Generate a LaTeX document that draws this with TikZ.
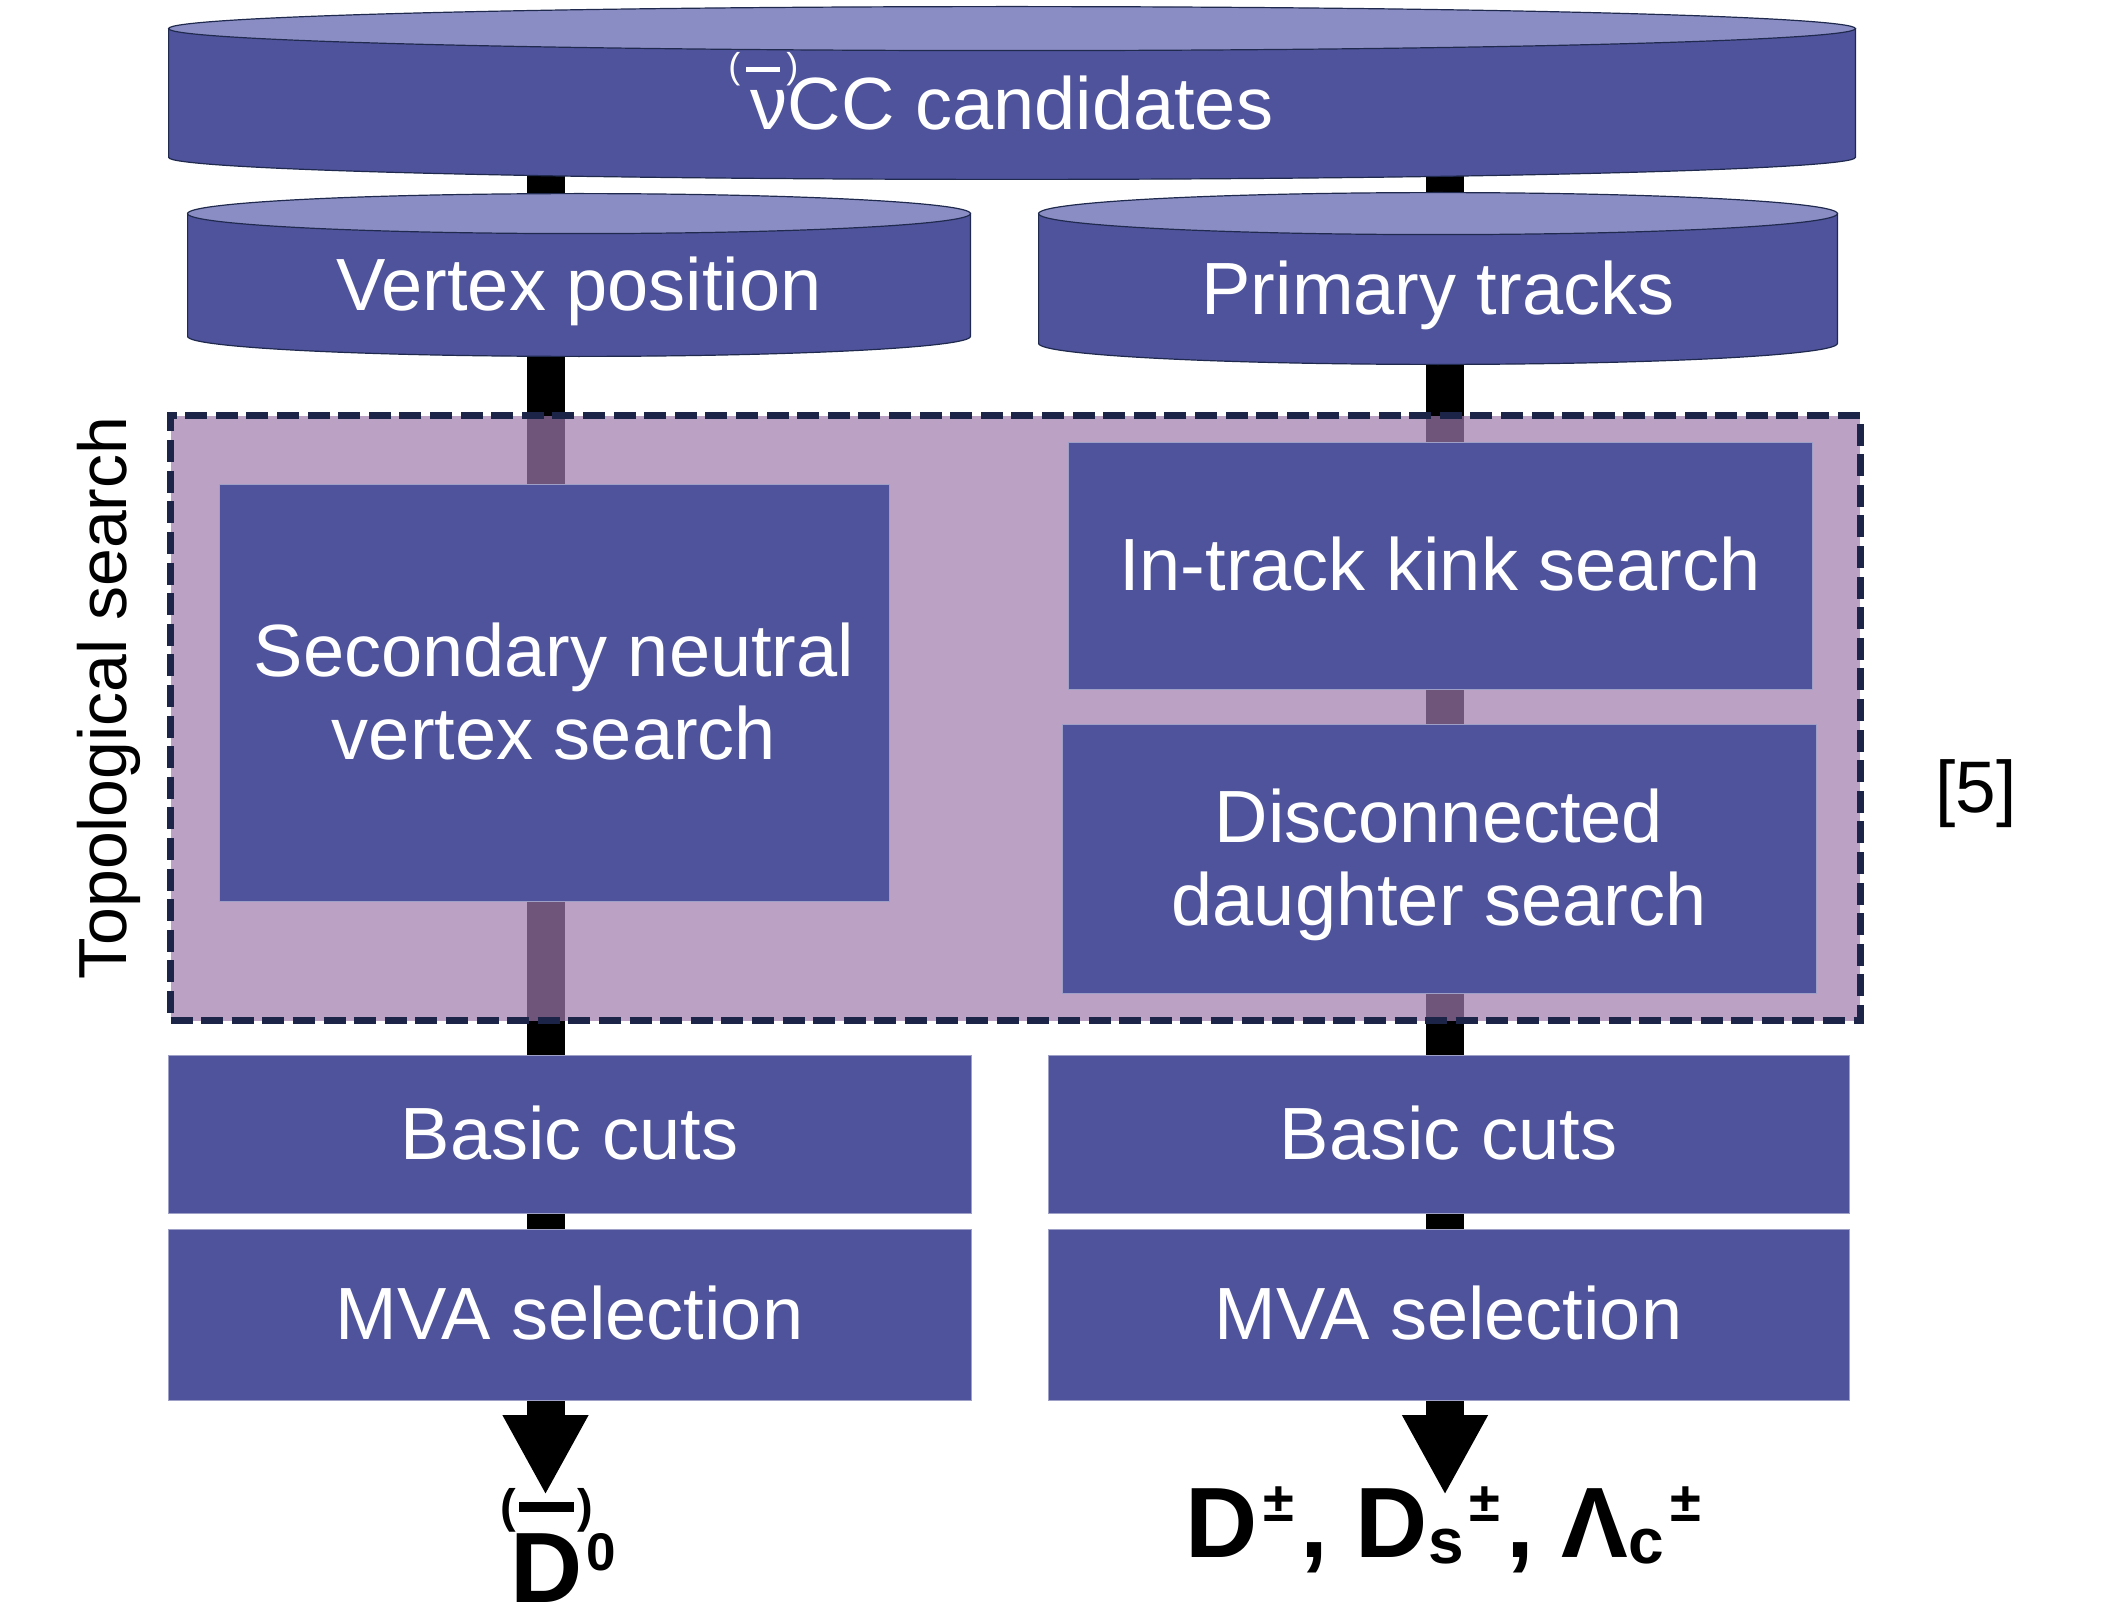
\documentclass[tikz,border=0pt]{standalone}
\usepackage{fontspec}
\setmainfont{Liberation Sans}
\usepackage{tikz}
\usetikzlibrary{arrows.meta,positioning,calc}
\definecolor{FlowBlue}{HTML}{4F539B}
\definecolor{FlowLid}{HTML}{8A8DC4}
\definecolor{FlowNavy}{HTML}{1F2A4E}
\definecolor{TopoLilac}{HTML}{9E7AAD}
\definecolor{TopoEdge}{HTML}{1C2447}
\pgfdeclarelayer{trunklayer}
\pgfdeclarelayer{drumlayer}
\pgfsetlayers{trunklayer,drumlayer,main}
\newcommand{\boxfont}{\fontsize{37}{41.5}\selectfont}
\newcommand{\linestrut}{\rule[-7.7pt]{0pt}{40.7pt}}
\newcommand{\paccent}[5]{{\fontsize{#1}{#1}\selectfont(\kern#5\rule[#4]{#2}{#3}\kern#5)}}
\newcommand{\withaccent}[3]{\ooalign{#1\cr\hidewidth\raisebox{#2}{#3}\hidewidth\cr}}
\newcommand{\chg}{\kern3pt\raisebox{18pt}{\fontsize{28}{28}\selectfont ±}\kern3pt}
\newcommand{\flav}[1]{\raisebox{-3pt}{\fontsize{32}{32}\selectfont #1}}
\tikzset{
  stagebox/.style={fill=FlowBlue,draw=FlowBlue!55!white,line width=0.5pt,text=white,align=center,inner sep=0pt,font=\boxfont},
  oneline/.style={text height=33pt,text depth=7.7pt},
  drum/.style={text=white,inner sep=0pt,font=\boxfont,oneline},
  drumbody/.style={fill=FlowBlue,draw=FlowNavy,line width=0.6pt},
  drumlid/.style={fill=FlowLid,draw=FlowNavy,line width=0.6pt},
  topobox/.style={draw=TopoEdge,line width=3.5pt,dash pattern=on 11pt off 4.3pt,fill=TopoLilac,fill opacity=0.7,inner sep=0pt},
  trunk/.style={line width=19pt,draw=black,-{Triangle[length=40pt,width=40pt]}},
  sidenote/.style={font=\fontsize{36.5}{41.5}\selectfont,oneline,inner sep=0pt},
  result/.style={font=\fontsize{50}{60}\selectfont\bfseries,inner sep=0pt,anchor=base west}
}

\begin{document}
\begin{tikzpicture}[x=0.5pt,y=-0.5pt]
\useasboundingbox (0,0) rectangle (2115,1621);
\node[drum,minimum width=843pt,minimum height=75pt] (cand) at (1012,104) {\withaccent{ν}{25.5pt}{\kern-6pt\paccent{18pt}{17pt}{2.5pt}{3.2pt}{3pt}}CC candidates};
\node[drum,minimum width=391pt,minimum height=71pt] (vtx) at (579,285) {Vertex position};
\node[drum,minimum width=399pt,minimum height=75pt] (trk) at (1438,289) {Primary tracks};
\node[topobox,minimum width=844.75pt,minimum height=302.5pt] (topo) at (1015.25,718) {};
\node[stagebox,minimum width=335pt,minimum height=208.5pt] (sec) at (554,692.5) {\linestrut Secondary neutral\\\linestrut vertex search};
\node[stagebox,oneline,minimum width=372pt,minimum height=123.5pt] (kink) at (1440,565.5) {In-track kink search};
\node[stagebox,minimum width=377pt,minimum height=134.5pt] (disc) at (1439,858.5) {\linestrut Disconnected\\\linestrut daughter search};
\node[stagebox,oneline,minimum width=401.5pt,minimum height=79pt] (cutL) at (569.5,1134) {Basic cuts};
\node[stagebox,oneline,minimum width=401.5pt,minimum height=85.5pt,below=7.5pt of cutL] (mvaL) {MVA selection};
\node[stagebox,oneline,minimum width=400.5pt,minimum height=79pt,right=38pt of cutL] (cutR) {Basic cuts};
\node[stagebox,oneline,minimum width=400.5pt,minimum height=85.5pt,below=7.5pt of cutR] (mvaR) {MVA selection};
\node[sidenote,rotate=90,font=\fontsize{34}{40}\selectfont] (topolbl) at (101,698) {Topological search};
\node[sidenote] (cite) at (1976,787) {[5]};
\node[result] (outL) at (510,1602) {\withaccent{D}{40pt}{\paccent{23.5pt}{27.5pt}{5pt}{5pt}{1.5pt}}\kern2pt\raisebox{16pt}{\fontsize{26.5}{26.5}\selectfont 0}};
\node[result] (outR) at (1185,1557) {D\chg, D\flav{s}\chg, Λ\flav{c}\chg};
\coordinate (tipL) at (545.5,1495);
\coordinate (tipR) at (1445,1495);
\begin{pgfonlayer}{trunklayer}
\draw[trunk] (tipL |- cand.center) -- (tipL);
\draw[trunk] (tipR |- cand.center) -- (tipR);
\end{pgfonlayer}
\begin{pgfonlayer}{drumlayer}
\foreach \dn/\dr in {cand/11pt,vtx/10pt,trk/10.5pt}{
  \path[drumbody] let \p1=($(\dn.north east)-(\dn.north west)$) in
    (\dn.north west) -- ([yshift=\dr]\dn.south west) arc[start angle=180,end angle=360,x radius=0.5*\x1,y radius=\dr] -- (\dn.north east) -- cycle;
  \path[drumlid] let \p1=($(\dn.north east)-(\dn.north west)$) in
    (\dn.north) ellipse[x radius=0.5*\x1,y radius=\dr];
}
\end{pgfonlayer}
\end{tikzpicture}
\end{document}
